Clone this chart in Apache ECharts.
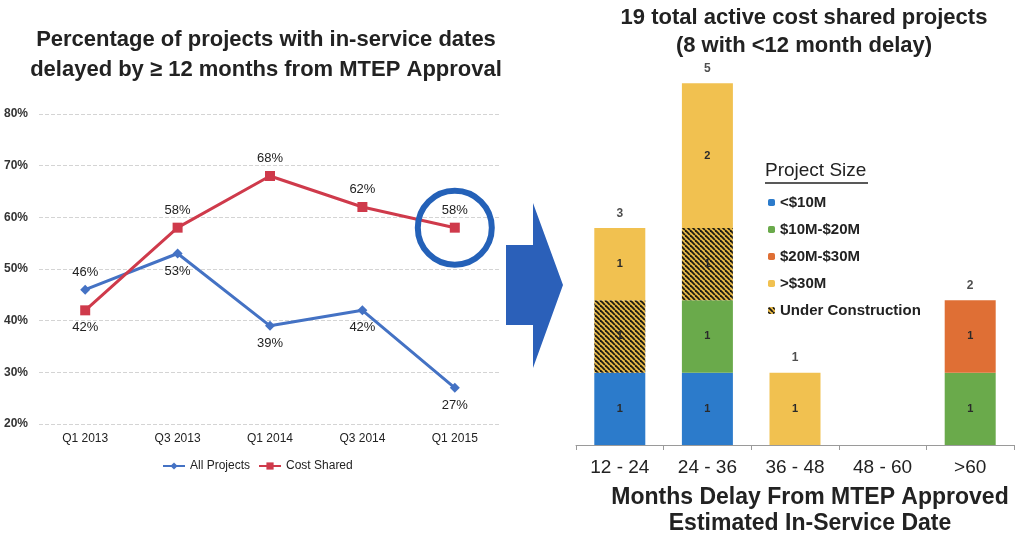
<!DOCTYPE html>
<html>
<head>
<meta charset="utf-8">
<script src="https://cdn.jsdelivr.net/npm/echarts@6/dist/echarts.min.js"></script>
<style>
  html, body { margin: 0; padding: 0; background: #fff; }
  #main { width: 1021px; height: 535px; }
</style>
</head>
<body>
<div id="main"></div>
<script>
// left chart data
var quarters = ['Q1 2013', 'Q3 2013', 'Q1 2014', 'Q3 2014', 'Q1 2015'];
var allProjects = [46, 53, 39, 42, 27];
var costShared = [42, 58, 68, 62, 58];

// right chart data
var delayBins = ['12 - 24', '24 - 36', '36 - 48', '48 - 60', '>60'];
var under10 = [1, 1, 0, 0, 0];
var from10to20 = [0, 1, 0, 0, 1];
var from20to30 = [0, 0, 0, 0, 1];
var over30Construction = [1, 1, 0, 0, 0];
var over30 = [1, 2, 1, 0, 0];

var totals = delayBins.map(function (b, i) {
  return under10[i] + from10to20[i] + from20to30[i] + over30Construction[i] + over30[i];
});

var font = 'Liberation Sans, Arial, sans-serif';

// hatch for "under construction"
function hatch() {
  var s = 5;
  var c = document.createElement('canvas');
  c.width = s; c.height = s;
  var ctx = c.getContext('2d');
  ctx.fillStyle = '#e8b948';
  ctx.fillRect(0, 0, s, s);
  ctx.strokeStyle = '#1c1a12';
  ctx.lineWidth = 1.8;
  for (var k = -s; k <= s; k += s) {
    ctx.beginPath();
    ctx.moveTo(k, 0);
    ctx.lineTo(k + s, s);
    ctx.stroke();
  }
  return c;
}

var lineLabel = function (pos) {
  return { show: true, position: pos, distance: 6, formatter: '{c}%', fontSize: 13, color: '#222', fontFamily: font };
};
var allPos = ['top', 'bottom', 'bottom', 'bottom', 'bottom'];
var costPos = ['bottom', 'top', 'top', 'top', 'top'];

var segLabel = {
  show: true, position: 'inside', fontSize: 11, fontWeight: 'bold', color: '#2a2a2a', fontFamily: font,
  formatter: function (p) { return p.value > 0 ? p.value : ''; }
};

function barSeries(name, data, color) {
  return {
    name: name, type: 'bar', stack: 'size', xAxisIndex: 1, yAxisIndex: 1,
    barWidth: 51, data: data, itemStyle: { color: color }, label: segLabel
  };
}

var chart = echarts.init(document.getElementById('main'));
chart.setOption({
  animation: false,
  textStyle: { fontFamily: font },
  title: [
    { text: 'Percentage of projects with in-service dates\ndelayed by \u2265 12 months from MTEP Approval',
      left: 266, top: 25, padding: 0, textAlign: 'center',
      textStyle: { fontSize: 22, fontWeight: 'bold', color: '#222', lineHeight: 30, fontFamily: font } },
    { text: '19 total active cost shared projects\n(8 with <12 month delay)',
      left: 804, top: 4, padding: 0, textAlign: 'center',
      textStyle: { fontSize: 22, fontWeight: 'bold', color: '#222', lineHeight: 28, fontFamily: font } },
    { text: 'Months Delay From MTEP Approved\nEstimated In-Service Date',
      left: 810, top: 485, padding: 0, textAlign: 'center',
      textStyle: { fontSize: 23, fontWeight: 'bold', color: '#222', lineHeight: 26, fontFamily: font } }
  ],
  legend: [
    { data: ['All Projects', 'Cost Shared'], left: 157, top: 455, itemWidth: 22, itemHeight: 9, itemGap: 8,
      textStyle: { fontSize: 12, color: '#222', fontFamily: font } },
    { data: ['<$10M', '$10M-$20M', '$20M-$30M', '>$30M', 'Under Construction'], orient: 'vertical',
      left: 763, top: 190, itemWidth: 7, itemHeight: 7, itemGap: 12,
      textStyle: { fontSize: 15, fontWeight: 'bold', color: '#222', fontFamily: font } }
  ],
  grid: [
    { left: 39, width: 462, top: 114, bottom: 111 },
    { left: 576, width: 438, top: 47, bottom: 90 }
  ],
  xAxis: [
    { type: 'category', gridIndex: 0, data: quarters, boundaryGap: true,
      axisLine: { show: false }, axisTick: { show: false },
      axisLabel: { fontSize: 12, color: '#222', margin: 9, fontFamily: font } },
    { type: 'category', gridIndex: 1, data: delayBins, boundaryGap: true,
      axisLine: { lineStyle: { color: '#9a9a9a', width: 1 } },
      axisTick: { show: true, length: 5, lineStyle: { color: '#9a9a9a' } },
      axisLabel: { fontSize: 19, color: '#222', margin: 13, fontFamily: font } }
  ],
  yAxis: [
    { type: 'value', gridIndex: 0, min: 20, max: 80, interval: 10,
      axisLine: { show: false }, axisTick: { show: false },
      axisLabel: { formatter: '{value}%', fontSize: 12, fontWeight: 'bold', color: '#333', margin: 11, fontFamily: font },
      splitLine: { lineStyle: { color: '#d4d4d4', type: 'dashed' } } },
    { type: 'value', gridIndex: 1, min: 0, max: 5.5, show: false, splitLine: { show: false } }
  ],
  series: [
    { name: 'All Projects', type: 'line', xAxisIndex: 0, yAxisIndex: 0,
      symbol: 'diamond', symbolSize: 10,
      lineStyle: { color: '#4472c4', width: 3 }, itemStyle: { color: '#4472c4' },
      data: allProjects.map(function (v, i) { return { value: v, label: lineLabel(allPos[i]) }; }) },
    { name: 'Cost Shared', type: 'line', xAxisIndex: 0, yAxisIndex: 0,
      symbol: 'rect', symbolSize: 10,
      lineStyle: { color: '#cf3a4b', width: 3 }, itemStyle: { color: '#cf3a4b' },
      data: costShared.map(function (v, i) { return { value: v, label: lineLabel(costPos[i]) }; }),
      markPoint: {
        symbol: 'circle', symbolSize: 74, silent: true,
        itemStyle: { color: 'rgba(0,0,0,0)', borderColor: '#2461b8', borderWidth: 6 },
        label: { show: false },
        data: [{ coord: [quarters.length - 1, costShared[costShared.length - 1]] }]
      } },
    barSeries('<$10M', under10, '#2c7bcb'),
    barSeries('$10M-$20M', from10to20, '#6aaa4b'),
    barSeries('$20M-$30M', from20to30, '#df6f35'),
    barSeries('Under Construction', over30Construction, { image: hatch(), repeat: 'repeat' }),
    barSeries('>$30M', over30, '#f1c150'),
    { name: 'totals', type: 'scatter', xAxisIndex: 1, yAxisIndex: 1, symbolSize: 1,
      itemStyle: { color: 'rgba(0,0,0,0)' }, data: totals, silent: true,
      label: { show: true, position: 'top', distance: 8, fontSize: 12, fontWeight: 'bold', color: '#222',
        formatter: function (p) { return p.value > 0 ? p.value : ''; } } }
  ],
  graphic: [
    { type: 'polygon', silent: true,
      shape: { points: [[506, 245], [533, 245], [533, 203], [563, 285], [533, 368], [533, 325], [506, 325]] },
      style: { fill: '#2b60b9' } },
    { type: 'text', left: 765, top: 161,
      style: { text: 'Project Size', fontSize: 19, fill: '#222', fontFamily: font } },
    { type: 'line', shape: { x1: 765, y1: 183, x2: 868, y2: 183 }, style: { stroke: '#222', lineWidth: 1.3 } }
  ]
});
</script>
</body>
</html>
